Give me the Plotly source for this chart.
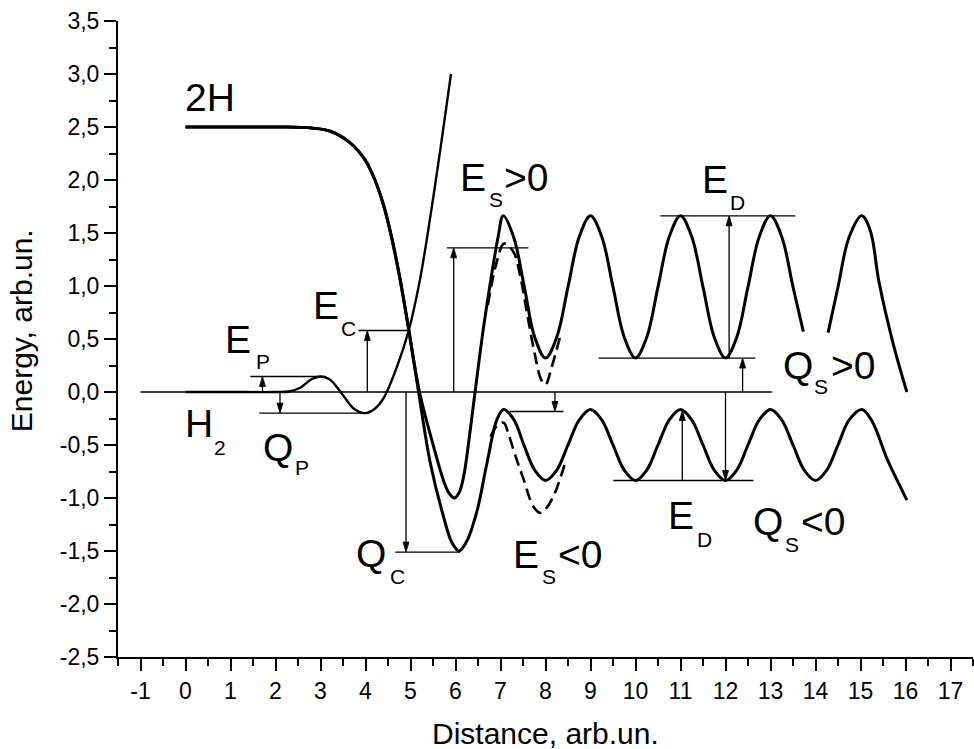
import plotly.graph_objects as go

# ---------------- potential curves ----------------
# H2 molecule curve: flat, small barrier, shallow well, steep repulsive wall
h2_x = [0.0, 1.0, 2.0, 2.3, 2.55, 2.8, 3.0, 3.2, 3.5, 3.75, 4.0, 4.2, 4.4, 4.7, 4.96, 5.21, 5.45, 5.66, 5.9]
h2_y = [0.0, 0.0, 0.0, 0.005, 0.04, 0.12, 0.146, 0.12, -0.03, -0.16, -0.199, -0.16, -0.06, 0.24, 0.58, 1.06, 1.68, 2.28, 3.0]

# 2H branch leading to the upper oscillating state (Q_S > 0)
up_x = [0.0, 1.0, 2.1, 2.8, 3.22, 3.66, 3.99, 4.21, 4.41, 4.59, 4.77, 4.96, 5.2, 5.51, 5.73, 5.85,
        5.97, 6.08, 6.18, 6.3, 6.45, 6.62, 6.8, 6.95, 7.06, 7.29, 7.53, 7.76, 8.0, 8.25, 8.5, 8.75,
        9.0, 9.25, 9.5, 9.75, 10.0, 10.25, 10.5, 10.75, 11.0, 11.25, 11.5, 11.75, 12.0, 12.25,
        12.5, 12.75, 13.0, 13.25, 13.5, 13.73]
up_y = [2.5, 2.5, 2.5, 2.49, 2.46, 2.35, 2.19, 2.0, 1.75, 1.44, 1.06, 0.59, 0.0, -0.51, -0.83, -0.95,
        -1.0, -0.95, -0.8, -0.45, 0.05, 0.6, 1.1, 1.47, 1.662, 1.465, 0.991, 0.517, 0.32, 0.517, 0.991, 1.465,
        1.662, 1.465, 0.991, 0.517, 0.32, 0.517, 0.991, 1.465, 1.662, 1.465, 0.991, 0.517, 0.32, 0.517,
        0.991, 1.465, 1.662, 1.465, 0.991, 0.57]
up_tail_x = [14.28, 14.5, 14.75, 15.03, 15.22, 15.41, 15.73, 16.03]
up_tail_y = [0.56, 0.991, 1.465, 1.662, 1.52, 1.04, 0.45, 0.0]

# 2H branch leading to the lower oscillating state (Q_S < 0)
lo_x = [0.0, 1.0, 2.1, 2.8, 3.22, 3.66, 3.99, 4.21, 4.41, 4.59, 4.77, 4.96, 5.18, 5.44, 5.73,
        5.92, 6.08, 6.26, 6.48, 6.7, 6.92, 7.07, 7.3, 7.52, 7.76, 8.0, 8.25, 8.5, 8.75,
        9.0, 9.25, 9.5, 9.75, 10.0, 10.25, 10.5, 10.75, 11.0, 11.25, 11.5, 11.75, 12.0, 12.25,
        12.5, 12.75, 13.0, 13.25, 13.5, 13.75, 14.0, 14.25, 14.5, 14.75, 15.03, 15.25, 15.59,
        15.8, 16.03]
lo_y = [2.5, 2.5, 2.5, 2.49, 2.46, 2.35, 2.19, 2.0, 1.75, 1.44, 1.06, 0.59, 0.0, -0.67, -1.17,
        -1.42, -1.5, -1.4, -1.12, -0.67, -0.26, -0.165, -0.263, -0.5, -0.737, -0.835, -0.737, -0.5, -0.263,
        -0.165, -0.263, -0.5, -0.737, -0.835, -0.737, -0.5, -0.263, -0.165, -0.263, -0.5, -0.737, -0.835, -0.737,
        -0.5, -0.263, -0.165, -0.263, -0.5, -0.737, -0.835, -0.737, -0.5, -0.263, -0.165, -0.27, -0.63,
        -0.82, -1.02]

# first-step variants (dashed)
dash_up_x = [6.72, 6.9, 7.08, 7.29, 7.44, 7.6, 7.76, 7.9, 8.0, 8.14, 8.33]
dash_up_y = [0.82, 1.2, 1.40, 1.32, 1.09, 0.72, 0.36, 0.12, 0.07, 0.24, 0.53]
dash_lo_x = [6.78, 6.92, 7.07, 7.18, 7.33, 7.51, 7.73, 7.88, 8.03, 8.22, 8.45]
dash_lo_y = [-0.42, -0.32, -0.29, -0.40, -0.60, -0.82, -1.08, -1.14, -1.09, -0.94, -0.65]

# ---------------- energy levels and arrows ----------------
# horizontal reference levels: (energy, x start, x end)
level_e = [0.0, 0.146, -0.199, 0.58, -1.51, 1.36, -0.184, 1.662, 0.32, -0.835]
level_x0 = [-1.0, 1.44, 1.64, 3.84, 4.66, 5.81, 7.21, 10.55, 9.18, 9.51]
level_x1 = [13.03, 3.10, 3.96, 4.96, 6.10, 7.62, 8.40, 13.55, 12.66, 12.62]

# vertical arrows: (x, from energy, to energy)
arrow_x = [1.71, 2.10, 4.04, 4.90, 5.96, 8.21, 12.08, 12.38, 11.04, 12.00]
arrow_from = [0.0, 0.0, 0.0, 0.0, 0.0, 0.0, 0.32, 0.0, -0.835, 0.0]
arrow_to = [0.146, -0.199, 0.58, -1.51, 1.36, -0.184, 1.662, 0.32, -0.175, -0.835]

# ---------------- labels ----------------
main_text = ["2H", "H", "E", "Q", "E", "E", "E", "Q", "E", "Q", "E", "Q"]
main_x = [0.544, 0.289, 1.173, 2.062, 3.118, 6.389, 11.756, 13.618, 11.016, 12.951, 7.573, 4.122]
main_y = [2.778, -0.30, 0.493, -0.524, 0.813, 2.024, 2.008, 0.247, -1.168, -1.226, -1.530, -1.528]

sub_text = ["2", "P", "P", "C", "S", "D", "S", "D", "S", "S", "C"]
sub_x = [0.767, 1.711, 2.582, 3.618, 6.896, 12.267, 14.118, 11.538, 13.478, 8.082, 4.70]
sub_y = [-0.519, 0.291, -0.708, 0.601, 1.814, 1.791, 0.05, -1.389, -1.443, -1.742, -1.745]

tail_text = [">0", ">0", "<0", "<0"]
tail_x = [7.04, 14.30, 13.63, 8.24]
tail_y = [2.024, 0.247, -1.226, -1.530]

x_ticks = list(range(-1, 18))
x_tick_labels = [str(v) for v in x_ticks]
y_ticks = [-2.5, -2.0, -1.5, -1.0, -0.5, 0.0, 0.5, 1.0, 1.5, 2.0, 2.5, 3.0, 3.5]
y_tick_labels = ["-2,5", "-2,0", "-1,5", "-1,0", "-0,5", "0,0", "0,5", "1,0", "1,5", "2,0", "2,5", "3,0", "3,5"]

FONT = "Liberation Sans, Arial, sans-serif"
X_RANGE = [-1.5, 17.5]
Y_RANGE = [-2.5, 3.5]
PLOT_W, PLOT_H = 855, 636

fig = go.Figure()


def add_curve(x, y, width, dash="solid"):
    fig.add_trace(go.Scatter(
        x=x, y=y, mode="lines",
        line=dict(color="black", width=width, dash=dash, shape="spline", smoothing=1.0),
        hoverinfo="skip", showlegend=False,
    ))


# thin reference levels
lx, ly = [], []
for e, a, b in zip(level_e, level_x0, level_x1):
    lx += [a, b, None]
    ly += [e, e, None]
fig.add_trace(go.Scatter(x=lx, y=ly, mode="lines", line=dict(color="black", width=1.3),
                         hoverinfo="skip", showlegend=False))

# arrow shafts and narrow filled heads
x_per_px = (X_RANGE[1] - X_RANGE[0]) / PLOT_W
y_per_px = (Y_RANGE[1] - Y_RANGE[0]) / PLOT_H
head_len = 10 * y_per_px
head_half = 3 * x_per_px
sx, sy, hx, hy = [], [], [], []
for x, a, b in zip(arrow_x, arrow_from, arrow_to):
    s = 1 if b > a else -1
    sx += [x, x, None]
    sy += [a, b - s * head_len * 0.5, None]
    hx += [x, x - head_half, x + head_half, x, None]
    hy += [b, b - s * head_len, b - s * head_len, b, None]
fig.add_trace(go.Scatter(x=sx, y=sy, mode="lines", line=dict(color="black", width=1.3),
                         hoverinfo="skip", showlegend=False))
fig.add_trace(go.Scatter(x=hx, y=hy, mode="lines", fill="toself", fillcolor="black",
                         line=dict(color="black", width=0.8), hoverinfo="skip", showlegend=False))

# potential curves
add_curve(h2_x, h2_y, 2.4)
add_curve(up_x, up_y, 3)
add_curve(up_tail_x, up_tail_y, 3)
add_curve(lo_x, lo_y, 3)
add_curve(dash_up_x, dash_up_y, 2.6, dash="12px,6px")
add_curve(dash_lo_x, dash_lo_y, 2.6, dash="12px,6px")

annotations = []
for t, x, y in zip(main_text, main_x, main_y):
    annotations.append(dict(text=t, x=x, y=y, xref="x", yref="y", showarrow=False,
                            xanchor="center", yanchor="middle",
                            font=dict(family=FONT, size=39, color="black")))
for t, x, y in zip(sub_text, sub_x, sub_y):
    annotations.append(dict(text=t, x=x, y=y, xref="x", yref="y", showarrow=False,
                            xanchor="center", yanchor="middle",
                            font=dict(family=FONT, size=21, color="black")))
for t, x, y in zip(tail_text, tail_x, tail_y):
    annotations.append(dict(text=t, x=x, y=y, xref="x", yref="y", showarrow=False,
                            xanchor="left", yanchor="middle",
                            font=dict(family=FONT, size=39, color="black")))

# axis titles
annotations.append(dict(text="Distance, arb.un.", x=0.5, y=-0.121, xref="paper", yref="paper",
                        showarrow=False, xanchor="center", yanchor="middle",
                        font=dict(family=FONT, size=30, color="black")))
annotations.append(dict(text="Energy, arb.un.", x=-0.112, y=0.5126, xref="paper", yref="paper",
                        showarrow=False, xanchor="center", yanchor="middle", textangle=-90,
                        font=dict(family=FONT, size=30, color="black")))

axis_common = dict(
    showline=True, linecolor="black", linewidth=2,
    ticks="outside", ticklen=12, tickwidth=2, tickcolor="black",
    showgrid=False, zeroline=False,
    tickfont=dict(family=FONT, size=23, color="black"),
    tickmode="array",
)

fig.update_xaxes(range=X_RANGE, tickvals=x_ticks, ticktext=x_tick_labels,
                 minor=dict(tickmode="linear", tick0=-1.5, dtick=0.5, ticks="outside",
                            ticklen=7, tickwidth=2, tickcolor="black"),
                 **axis_common)
fig.update_yaxes(range=Y_RANGE, tickvals=y_ticks, ticktext=y_tick_labels,
                 minor=dict(tickmode="linear", tick0=-2.5, dtick=0.25, ticks="outside",
                            ticklen=7, tickwidth=2, tickcolor="black"),
                 **axis_common)

fig.update_layout(
    width=974, height=749,
    margin=dict(l=118, r=1, t=21, b=92),
    paper_bgcolor="white", plot_bgcolor="white",
    font=dict(family=FONT, color="black"),
    annotations=annotations,
    showlegend=False,
)

fig.write_html("out.html")
